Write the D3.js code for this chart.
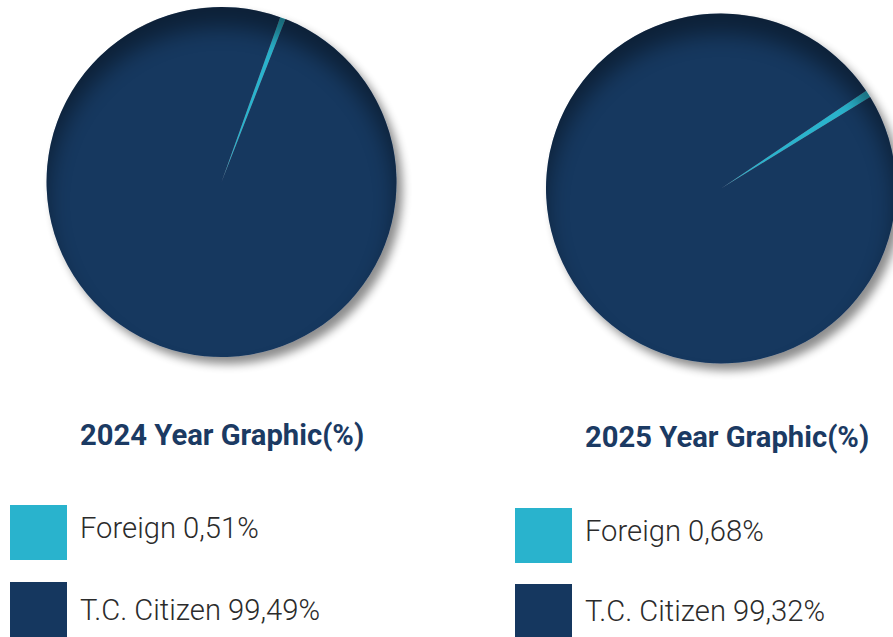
<!DOCTYPE html>
<html>
<head>
<meta charset="utf-8">
<script src="https://cdn.jsdelivr.net/npm/d3@7"></script>
<style>
  html, body { margin: 0; padding: 0; background: #fff; }
  svg { display: block; }
</style>
</head>
<body>
<svg id="chart" width="893" height="637"></svg>
<script>
// Share of visitors by nationality, two years side by side
const years = ["2024", "2025"];
const categories = ["Foreign", "T.C. Citizen"];
const foreignShare = [0.51, 0.68];
const citizenShare = [99.49, 99.32];
// rotation of the first slice (degrees, clockwise from 12 o'clock)
const firstSliceAngle = [19.6, 56.0];

const colors = d3.scaleOrdinal().domain(categories).range(["#29b3cd", "#15375f"]);
const fmt = d3.formatLocale({ decimal: ",", thousands: ".", grouping: [3], currency: ["", ""] }).format(".2f");

const svg = d3.select("#chart");
const defs = svg.append("defs");

const panels = [
  { cx: 221.5, cy: 182, titleX: 80, titleY: 445, legendX: 10, legendTextX: 80, legendY: [505, 582], textY: [538, 620] },
  { cx: 721, cy: 188.5, titleX: 585, titleY: 447, legendX: 515, legendTextX: 585, legendY: [508, 584], textY: [541, 621] }
];
const radius = 175;
const fontSize = 29.2;

// soft drop shadow toward bottom-right
const shadow = defs.append("filter").attr("id", "drop").attr("x", "-20%").attr("y", "-20%").attr("width", "140%").attr("height", "140%");
shadow.append("feGaussianBlur").attr("in", "SourceAlpha").attr("stdDeviation", 5).attr("result", "b");
shadow.append("feOffset").attr("in", "b").attr("dx", 6).attr("dy", 7).attr("result", "o");
shadow.append("feComponentTransfer").attr("in", "o").attr("result", "s")
  .append("feFuncA").attr("type", "linear").attr("slope", 0.45);
const merge = shadow.append("feMerge");
merge.append("feMergeNode").attr("in", "s");
merge.append("feMergeNode").attr("in", "SourceGraphic");

// blur used for the inner bevel along the upper rim
defs.append("filter").attr("id", "bevelBlur").attr("x", "-20%").attr("y", "-20%").attr("width", "140%").attr("height", "140%")
  .append("feGaussianBlur").attr("stdDeviation", 11);

const arc = d3.arc().innerRadius(0).outerRadius(radius);

years.forEach((year, i) => {
  const p = panels[i];
  const values = [foreignShare[i], citizenShare[i]];
  const start = firstSliceAngle[i] * Math.PI / 180;
  const pie = d3.pie().sort(null).value(d => d).startAngle(start).endAngle(start + 2 * Math.PI);

  const g = svg.append("g").attr("transform", `translate(${p.cx},${p.cy})`);

  defs.append("clipPath").attr("id", "clip" + i)
    .append("circle").attr("r", radius);

  const pieG = g.append("g").attr("filter", "url(#drop)");
  pieG.selectAll("path.slice")
    .data(pie(values))
    .join("path")
    .attr("class", "slice")
    .attr("d", arc)
    .attr("fill", (d, k) => colors(categories[k]));

  // darker inner rim along the top of the disc
  const rim = g.append("g").attr("clip-path", `url(#clip${i})`);
  const big = radius + 60;
  const off = 20;
  rim.append("path")
    .attr("d", `M${-big},${-big}H${big}V${big}H${-big}Z` +
      `M0,${off - radius}A${radius},${radius} 0 1,0 0,${off + radius}A${radius},${radius} 0 1,0 0,${off - radius}Z`)
    .attr("fill-rule", "evenodd")
    .attr("fill", "#000")
    .attr("opacity", 0.42)
    .attr("filter", "url(#bevelBlur)");

  // title
  svg.append("text")
    .attr("x", p.titleX).attr("y", p.titleY)
    .attr("font-family", "Roboto, sans-serif")
    .attr("font-weight", 700)
    .attr("font-size", fontSize)
    .attr("fill", "#1b3a63")
    .text(`${year} Year Graphic(%)`);

  // legend
  categories.forEach((c, k) => {
    svg.append("rect")
      .attr("x", p.legendX).attr("y", p.legendY[k])
      .attr("width", 57).attr("height", 55)
      .attr("fill", colors(c));
    svg.append("text")
      .attr("x", p.legendTextX).attr("y", p.textY[k])
      .attr("font-family", "Roboto, sans-serif")
      .attr("font-weight", 300)
      .attr("font-size", fontSize)
      .attr("fill", "#2b2b2b")
      .text(`${c} ${fmt(values[k])}%`);
  });
});
</script>
</body>
</html>
